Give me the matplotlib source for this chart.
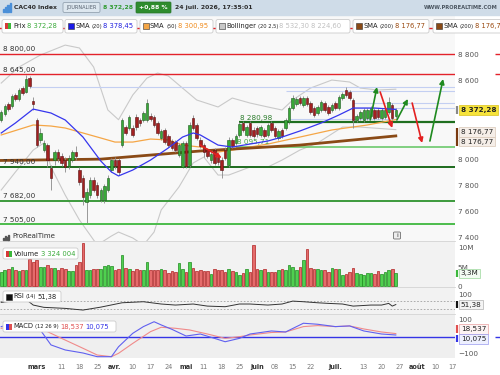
import numpy as np
import matplotlib.pyplot as plt
from matplotlib.patches import Rectangle, FancyBboxPatch

plt.rcParams['font.family'] = ['DejaVu Sans']

# bougies journalieres (16 fev -> 24 juil.)
opens = [8298, 8343, 8420, 8404, 8488, 8458, 8541, 8511, 8617, 8442,
         8298, 8146, 8069, 8107, 7932, 7993, 8054, 8024, 7993, 7948,
         7993, 8054, 7917, 7856, 7674, 7727, 7841, 7803, 7689, 7689,
         7765, 7917, 7993, 7993, 8107, 8244, 8237, 8237, 8321, 8298,
         8298, 8298, 8328, 8321, 8275, 8161, 8222, 8176, 8138, 8130,
         8031, 7940, 8123, 7955, 8313, 8260, 8146, 8107, 8069, 7993,
         8069, 8016, 7993, 8069, 7955, 8146, 8123, 8184, 8275, 8184,
         8275, 8222, 8237, 8184, 8222, 8184, 8275, 8237, 8161, 8222,
         8237, 8283, 8389, 8420, 8465, 8412, 8465, 8427, 8389, 8351,
         8374, 8427, 8397, 8374, 8427, 8389, 8465, 8526, 8511, 8450,
         8298, 8313, 8298, 8313, 8328, 8374, 8374, 8313, 8321, 8359,
         8412, 8328]
closes = [8359, 8404, 8381, 8480, 8458, 8526, 8503, 8610, 8556, 8420,
          8107, 8199, 8123, 7993, 7856, 8054, 8009, 7971, 7940, 8009,
          8054, 8024, 7826, 7712, 7750, 7841, 7765, 7727, 7765, 7795,
          7856, 7993, 7948, 7902, 8298, 8199, 8321, 8184, 8244, 8275,
          8351, 8427, 8305, 8260, 8199, 8214, 8130, 8107, 8085, 8069,
          8107, 8123, 7948, 8260, 8237, 8161, 8100, 8054, 8024, 8039,
          7971, 7978, 7917, 8009, 8146, 8100, 8176, 8267, 8222, 8244,
          8184, 8176, 8191, 8244, 8176, 8260, 8222, 8176, 8214, 8176,
          8298, 8389, 8465, 8458, 8427, 8465, 8420, 8359, 8336, 8397,
          8435, 8374, 8351, 8412, 8389, 8473, 8496, 8488, 8465, 8298,
          8328, 8359, 8374, 8374, 8389, 8313, 8321, 8374, 8374, 8435,
          8313, 8372.28]
highs = [8374, 8420, 8435, 8496, 8503, 8541, 8556, 8640, 8633, 8473,
         8313, 8237, 8146, 8123, 7955, 8069, 8077, 8047, 8016, 8031,
         8069, 8100, 7940, 7879, 7780, 7864, 7864, 7826, 7780, 7810,
         7879, 8009, 8016, 8009, 8313, 8260, 8336, 8260, 8343, 8313,
         8366, 8458, 8351, 8336, 8290, 8229, 8237, 8191, 8153, 8146,
         8123, 8138, 8138, 8283, 8336, 8275, 8168, 8123, 8085, 8054,
         8085, 8039, 8016, 8092, 8168, 8161, 8191, 8283, 8290, 8260,
         8290, 8244, 8252, 8260, 8237, 8275, 8290, 8252, 8229, 8237,
         8313, 8404, 8488, 8473, 8480, 8480, 8480, 8442, 8404, 8412,
         8450, 8442, 8412, 8427, 8442, 8488, 8511, 8549, 8526, 8465,
         8343, 8374, 8389, 8389, 8404, 8389, 8389, 8389, 8389, 8473,
         8427, 8389]
lows = [8283, 8328, 8366, 8389, 8442, 8442, 8488, 8503, 8541, 8374,
        8092, 8123, 8054, 7940, 7765, 7955, 7978, 7948, 7902, 7925,
        7978, 7993, 7803, 7651, 7514, 7704, 7750, 7704, 7674, 7666,
        7750, 7902, 7925, 7879, 8092, 8184, 8222, 8168, 8222, 8252,
        8283, 8283, 8290, 8244, 8184, 8146, 8115, 8092, 8069, 8054,
        8016, 7932, 7932, 7940, 8222, 8146, 8085, 8016, 8009, 7971,
        7955, 7955, 7856, 7993, 7940, 8085, 8107, 8168, 8206, 8168,
        8168, 8161, 8168, 8168, 8161, 8168, 8206, 8161, 8146, 8161,
        8222, 8267, 8374, 8404, 8412, 8397, 8404, 8343, 8321, 8336,
        8359, 8359, 8336, 8359, 8374, 8374, 8450, 8473, 8450, 8237,
        8283, 8298, 8283, 8298, 8313, 8298, 8305, 8298, 8305, 8343,
        8298, 8313]
# volume en millions
volumes = [3.8, 4.2, 4.6, 5.1, 4.1, 3.9, 4.1, 4.2, 7.2, 6.3,
           6.8, 5.1, 5.1, 5.4, 4.8, 4.8, 4.1, 4.7, 4.4, 3.9,
           3.9, 5.5, 6.3, 11.4, 4.1, 4.2, 4.4, 4.4, 4.6, 5.3,
           5.4, 5.3, 4.1, 4.4, 8.2, 4.8, 4.4, 3.9, 4.4, 4.1,
           4.1, 6.4, 4.1, 4.1, 4.2, 4.4, 4.2, 3.5, 3.9, 3.8,
           6.0, 4.4, 3.8, 6.3, 4.8, 4.0, 4.1, 3.9, 3.9, 3.1,
           4.4, 4.2, 4.2, 3.8, 4.4, 3.9, 3.7, 2.9, 3.3, 4.4,
           3.8, 10.8, 4.6, 4.2, 4.4, 3.8, 3.8, 3.8, 4.2, 4.6,
           4.2, 5.4, 5.1, 4.2, 5.1, 6.8, 9.8, 4.8, 4.4, 4.6,
           4.2, 4.1, 3.6, 4.8, 4.4, 4.4, 2.9, 3.1, 3.8, 4.8,
           3.5, 3.1, 2.8, 3.3, 3.5, 3.2, 3.9, 3.2, 3.7, 4.2,
           4.6, 3.324]

# indicateurs (indice de seance, valeur)
sma20_x = [0, 4, 9, 14, 18, 23, 28, 31, 33, 37, 42, 47, 51, 54, 56, 61, 65, 70, 75, 79, 84, 90, 95, 99, 105, 111]
sma20_y = [8199, 8275, 8381, 8351, 8298, 8168, 7986, 7902, 7872, 7917, 7993, 8085, 8168, 8199, 8184, 8107,
           8092, 8115, 8138, 8168, 8214, 8275, 8336, 8389, 8389, 8378.45]
sma50_x = [0, 9, 14, 18, 23, 28, 32, 37, 42, 47, 51, 56, 61, 65, 70, 75, 84, 93, 103, 111]
sma50_y = [8184, 8260, 8252, 8237, 8199, 8161, 8130, 8130, 8153, 8146, 8107, 8092, 8054, 8069, 8092, 8115,
           8168, 8222, 8260, 8300.95]
sma200_x = [0, 28, 56, 84, 111]
sma200_y = [7990, 8000, 8062, 8107, 8176.77]
bb_up_x = [0, 5, 11, 18, 22, 26, 30, 33, 37, 41, 44, 47, 51, 55, 61, 65, 70, 75, 79, 82, 87, 93, 98, 101, 106, 111]
bb_up_y = [8579, 8701, 8792, 8868, 8846, 8701, 8374, 8300, 8488, 8617, 8655, 8633, 8541, 8450, 8397, 8465,
           8427, 8397, 8374, 8450, 8541, 8602, 8587, 8541, 8526, 8532.30]
bb_lo_x = [0, 4, 9, 12, 14, 18, 22, 25, 27, 31, 33, 37, 40, 43, 45, 50, 54, 57, 61, 64, 70, 75, 79, 84, 89, 96, 101, 111]
bb_lo_y = [7765, 7902, 8069, 8123, 7940, 7727, 7537, 7423, 7346, 7415, 7445, 7400, 7346, 7445, 7613, 7788,
           7971, 8016, 7879, 7879, 7940, 7940, 7993, 8069, 8123, 8244, 8244, 8224.60]
rsi_x = [0, 3, 5, 7, 9, 12, 18, 23, 28, 34, 40, 45, 49, 54, 58, 63, 67, 70, 75, 79, 82, 85, 89, 92, 96, 99,
         104, 107, 109, 110, 111]
rsi_y = [62, 68, 71, 76, 49, 38, 33, 25, 39, 60, 65, 54, 49, 54, 44, 41, 54, 54, 49, 54, 68, 65, 60, 57, 54, 44,
         49, 49, 57, 44, 51.38]
macd_x = [0, 4, 8, 11, 14, 18, 23, 27, 31, 33, 37, 40, 43, 45, 48, 52, 56, 60, 63, 67, 70, 76, 80, 85, 89, 94,
          98, 102, 107, 111]
macd_y = [60, 80, 85, 40, -49, -79, -97, -119, -119, -60, 20, 60, 89, 70, 44, 4, 16, -10, -30, -10, 16, 34, 28,
          80, 74, 60, 64, 34, 16, 10.075]
sig_x = [0, 5, 9, 14, 18, 23, 27, 31, 33, 37, 42, 45, 49, 53, 58, 63, 67, 70, 76, 80, 85, 89, 94, 98, 102, 107, 111]
sig_y = [50, 65, 70, 20, -20, -69, -109, -119, -99, -40, 30, 56, 50, 40, 16, -10, 0, 10, 25, 28, 60, 66, 60, 64,
         46, 28, 18.537]

# niveaux traces
res_levels = [9000, 8800, 8645]
sup_levels = [7940, 7682, 7505]
sup_colors = ['#1d6b1d', '#3c9a3c', '#4cbc4c']
zone_high, zone_low, zone_start = 8280.98, 8095.71, 67
blue_levels = [8549, 8518, 8427, 8389, 8305]
blue_start = [8, 80, 99, 99, 81]
blue_end = [None, None, None, None, 111]
arrows = [((56, 8107), (62, 8009), 'r'), ((103.8, 8298), (105.7, 8549), 'g'), ((106.6, 8511), (110, 8237), 'r'),
          ((111.3, 8298), (114.4, 8458), 'g'), ((115.6, 8427), (118.4, 8123), 'r'), ((120.6, 8138), (124.3, 8610), 'g')]

tick_idx = [10, 17, 22, 27, 32, 37, 42, 47, 52, 57, 62, 67, 72, 77, 82, 87, 94, 102, 107, 112, 117, 122, 127]
tick_lab = ['mars', '11', '18', '25', 'avr.', '10', '17', '24', 'mai', '11', '18', '25', 'juin', '08', '15', '22',
            'juil.', '13', '20', '27', 'août', '10', '17']
months = ['mars', 'avr.', 'mai', 'juin', 'juil.', 'août']

W, H = 500, 375
fig = plt.figure(figsize=(5, 3.75), dpi=100)
fig.patch.set_facecolor('white')
renderer = fig.canvas.get_renderer()


def rect(top, bottom, left=0, right=455):
    return [left / W, 1 - bottom / H, (right - left) / W, (bottom - top) / H]


ax_p = fig.add_axes(rect(15, 241))
ax_v = fig.add_axes(rect(241, 287), sharex=ax_p)
ax_r = fig.add_axes(rect(287, 314), sharex=ax_p)
ax_m = fig.add_axes(rect(314, 358), sharex=ax_p)

FS = 5.2   # etiquettes d'axe
LF = 4.9   # legendes
for a, bg in [(ax_p, '#f8f8f8'), (ax_v, '#f2f2f2'), (ax_r, '#f2f2f2'), (ax_m, '#efefef')]:
    a.set_facecolor(bg)
    for s in a.spines.values():
        s.set_visible(False)
    a.yaxis.tick_right()
    a.tick_params(axis='y', length=0, labelsize=FS, labelcolor='#555555', pad=2)
    a.tick_params(axis='x', length=0, labelbottom=False)
for a in (ax_v, ax_r, ax_m):
    a.spines['top'].set_visible(True)
    a.spines['top'].set_color('#d4d4d4')
    a.spines['top'].set_linewidth(0.6)

ax_p.set_xlim(-0.34, 127.65)
ax_p.set_ylim(7377, 9097)
xr = 127.65

# --- panneau prix ---
ax_p.plot(bb_up_x, bb_up_y, color='#c9c9c9', lw=0.8, zorder=1)
ax_p.plot(bb_lo_x, bb_lo_y, color='#c9c9c9', lw=0.8, zorder=1)
for lv, st, en in zip(blue_levels, blue_start, blue_end):
    ax_p.hlines(lv, st, en if en is not None else xr, color='#c3cff2', lw=0.8, zorder=1)
for lv in res_levels:
    ax_p.axhline(lv, color='#e3222b', lw=1.0, zorder=2)
    ax_p.hlines(lv, 1.088, 1.1, transform=ax_p.get_yaxis_transform(), colors='#e3222b', lw=1.0,
                clip_on=False)
for lv, col in zip(sup_levels, sup_colors):
    ax_p.axhline(lv, color=col, lw=1.4, zorder=2)
ax_p.hlines(zone_high, zone_start, xr, color='#1f6f1f', lw=1.6, zorder=2)
ax_p.hlines(zone_low, zone_start - 1, xr, color='#6cc86c', lw=1.2, zorder=2)

for lv in res_levels[1:] + sup_levels:
    ax_p.annotate(f"{lv:,.2f}".replace(",", " ").replace(".", ","), xy=(0.006, lv),
                  xycoords=('axes fraction', 'data'), xytext=(0, 1.2), textcoords='offset points',
                  fontsize=FS, color='#333333', va='bottom', zorder=6)
ax_p.annotate("8 280,98", xy=(zone_start + 0.2, zone_high), xytext=(0, 1.2), textcoords='offset points',
              fontsize=FS, color='#2d7d2d', va='bottom', zorder=6)
ax_p.annotate("8 095,71", xy=(zone_start - 0.8, zone_low), xytext=(0, 1.2), textcoords='offset points',
              fontsize=FS, color='#45a845', va='bottom', zorder=6)

ax_p.plot(sma50_x, sma50_y, color='#f5a646', lw=0.9, zorder=3)
ax_p.plot(sma200_x, sma200_y, color='#8a4a16', lw=2.0, zorder=3)

idx = np.arange(len(closes))
o = np.array(opens, dtype=float)
c = np.array(closes, dtype=float)
up = c >= o
ax_p.vlines(idx, lows, highs, color='#8a8a8a', lw=0.6, zorder=4)
ax_p.bar(idx, np.maximum(np.abs(c - o), 4), bottom=np.minimum(o, c), width=0.7,
         color=np.where(up, '#38a838', '#a32020'), edgecolor=np.where(up, '#1d5a1d', '#551010'),
         lw=0.4, zorder=5)
ax_p.plot(sma20_x, sma20_y, color='#3636ee', lw=0.9, zorder=6)

for (x0, y0), (x1, y1), k in arrows:
    ax_p.annotate('', xy=(x1, y1), xytext=(x0, y0), zorder=7,
                  arrowprops=dict(arrowstyle='-|>', color='#e32020' if k == 'r' else '#1f8a1f',
                                  lw=1.2, mutation_scale=7, shrinkA=0, shrinkB=0))

pticks = [7400, 7600, 7800, 8000, 8600, 8800]
ax_p.set_yticks(pticks)
ax_p.set_yticklabels([f"{v:,}".replace(",", " ") for v in pticks])


def value_box(ax, v, txt, fc, ec, tc='#222222', bold=False):
    ax.annotate(txt, xy=(1.0, v), xycoords=('axes fraction', 'data'), xytext=(4.2, 0),
                textcoords='offset points', fontsize=FS, color=tc, va='center', ha='left',
                fontweight='bold' if bold else 'normal', annotation_clip=False, zorder=20,
                bbox=dict(boxstyle='square,pad=0.25', fc=fc, ec=ec, lw=0.5))


def side_bar(ax, lo, hi, col):
    ax.vlines(1.004, lo, hi, transform=ax.get_yaxis_transform(), colors=col, lw=1.6, clip_on=False,
              zorder=21)


value_box(ax_p, closes[-1], "8 372,28", '#f6e33a', '#d9c21c', bold=True)
side_bar(ax_p, closes[-1] - 30, closes[-1] + 30, '#888888')
value_box(ax_p, 8206, "8 176,77", '#f5eee8', '#d9c8b8')
value_box(ax_p, 8134, "8 176,77", '#f5eee8', '#d9c8b8')
side_bar(ax_p, 8100, 8240, '#7a3a10')

# --- volume ---
ax_v.bar(idx, volumes, width=0.74, color=np.where(up, '#4fd04f', '#e56b6b'),
         edgecolor=np.where(up, '#1e8c1e', '#b02222'), lw=0.5)
ax_v.set_ylim(-0.26, 11.84)
ax_v.set_yticks([0, 5, 10])
ax_v.set_yticklabels(['0', '5M', '10M'])
value_box(ax_v, volumes[-1], "3,3M", '#f4fbf4', '#9ad89a')
side_bar(ax_v, volumes[-1] - 1.0, volumes[-1] + 1.0, '#3cb83c')

# --- RSI ---
ax_r.axhline(70, color='#a0a0a0', lw=0.6, ls=(0, (2, 2)))
ax_r.axhline(30, color='#a0a0a0', lw=0.6, ls=(0, (2, 2)))
ax_r.plot(rsi_x, rsi_y, color='#333333', lw=0.7)
ax_r.set_ylim(6, 135.8)
ax_r.set_yticks([100])
value_box(ax_r, rsi_y[-1], "51,38", '#f4f4f4', '#b0b0b0')
side_bar(ax_r, rsi_y[-1] - 18, rsi_y[-1] + 18, '#111111')

# --- MACD ---
ax_m.axhline(0, color='#3434e6', lw=1.0)
ax_m.hlines(0, 1.088, 1.1, transform=ax_m.get_yaxis_transform(), colors='#3434e6', lw=1.0, clip_on=False)
ax_m.plot(sig_x, sig_y, color='#f08a8a', lw=0.8)
ax_m.plot(macd_x, macd_y, color='#6060f0', lw=0.8)
ax_m.set_ylim(-126.8, 135)
ax_m.set_yticks([-100, 100])
ax_m.set_yticklabels(['\u2212100', '100'])
value_box(ax_m, 46, "18,537", '#fdf3f3', '#eaa0a0')
value_box(ax_m, -12, "10,075", '#eef0ff', '#9a9aee')
side_bar(ax_m, 24, 68, '#e05050')
side_bar(ax_m, -34, 10, '#3434e6')

ax_m.tick_params(axis='x', labelbottom=True, labelsize=4.7, pad=4, labelcolor='#777777')
ax_m.set_xticks(tick_idx)
ax_m.set_xticklabels(tick_lab)
for tl in ax_m.get_xticklabels():
    if tl.get_text() in months:
        tl.set_fontweight('bold')
        tl.set_color('#333333')

# --- habillage (coordonnees pixel) ---
ov = fig.add_axes([0, 0, 1, 1], zorder=10)
ov.set_xlim(0, W)
ov.set_ylim(H, 0)
ov.axis('off')
ov.patch.set_alpha(0)


def chain(x, y, parts, gap=1.6):
    # textes places bout a bout
    for s, col, fs, bold in parts:
        tx = ov.text(x, y, s, fontsize=fs, color=col, va='center',
                     fontweight='bold' if bold else 'normal')
        x += tx.get_window_extent(renderer).width + gap
    return x


TF = 4.4
ov.add_patch(Rectangle((0, 0), W, 15, color='#cfdce8'))
for i, hh in enumerate([3, 5, 7, 9]):
    ov.add_patch(Rectangle((3 + i * 2.2, 12 - hh), 1.3, hh, color='#4a8fd8'))
ov.text(14, 7.7, 'CAC40 Index', fontsize=TF, fontweight='bold', color='#2b2b2b', va='center')
ov.add_patch(FancyBboxPatch((63, 2.5), 37, 10, boxstyle='round,pad=0,rounding_size=1.5',
                            fc='#dde7ef', ec='#8797a6', lw=0.5))
ov.text(81.5, 7.8, 'JOURNALIER', fontsize=3.6, color='#55606e', ha='center', va='center')
ov.text(103, 7.7, '8 372,28', fontsize=TF, fontweight='bold', color='#2f9a2f', va='center')
ov.add_patch(FancyBboxPatch((136, 2), 35, 11, boxstyle='round,pad=0,rounding_size=1',
                            fc='#2e8c2e', ec='#267526', lw=0.5))
ov.text(153.5, 7.7, '+0,88 %', fontsize=TF, fontweight='bold', color='white', ha='center', va='center')
ov.text(175, 7.7, '24 juil. 2026, 17:35:01', fontsize=TF, fontweight='bold', color='#2b2b2b', va='center')
ov.text(498, 7.7, 'WWW.PROREALTIME.COM', fontsize=3.7, fontweight='bold', color='#4a5560',
        ha='right', va='center')


def lbox(x0, x1, y0, y1):
    ov.add_patch(FancyBboxPatch((x0, y0), x1 - x0, y1 - y0, boxstyle='round,pad=0,rounding_size=2',
                                fc='white', ec='#cccccc', lw=0.6))


def sq(x, y, c1, c2=None):
    if c2 is None:
        ov.add_patch(Rectangle((x, y - 3), 6, 6, fc=c1, ec='#333333', lw=0.4))
    else:
        ov.add_patch(Rectangle((x, y - 3), 3, 6, fc=c1, lw=0))
        ov.add_patch(Rectangle((x + 3, y - 3), 3, 6, fc=c2, lw=0))


K = '#222222'
PF = 3.7
yl = 26.3
lbox(2, 63, 19.5, 33)
sq(5, yl, '#d63a3a', '#3cb83c')
chain(13, yl, [('Prix', K, LF, False), ('8 372,28', '#3aaa3a', LF, False)])
lbox(65, 137, 19.5, 33)
sq(67.5, yl, '#1a1ae8')
chain(75, yl, [('SMA', K, LF, False), ('(20)', K, PF, False), ('8 378,45', '#2222e0', LF, False)])
lbox(140, 213, 19.5, 33)
sq(142.5, yl, '#f5a646')
chain(150, yl, [('SMA', K, LF, False), ('(50)', K, PF, False), ('8 300,95', '#f08c1e', LF, False)])
lbox(216, 350, 19.5, 33)
sq(218.5, yl, '#c8c8c8')
chain(226, yl, [('Bollinger', K, LF, False), ('(20 2,5)', K, PF, False), ('8 532,30', '#c0c0c0', LF, False),
                ('8 224,60', '#c0c0c0', LF, False)])
lbox(353, 429, 19.5, 33)
sq(355.5, yl, '#8a4a16')
chain(363, yl, [('SMA', K, LF, False), ('(200)', K, PF, False), ('8 176,77', '#9a4a10', LF, False)])
lbox(433, 505, 19.5, 33)
sq(435.5, yl, '#8a4a16')
chain(443, yl, [('SMA', K, LF, False), ('(200)', K, PF, False), ('8 176,7', '#9a4a10', LF, False)])

# logo et boite info
for i, hh in enumerate([2, 4, 3, 5]):
    ov.add_patch(Rectangle((3 + i * 1.8, 239.5 - hh), 1.0, hh, color='#555555'))
ov.text(12, 236.5, 'ProRealTime', fontsize=5.0, color='#333333', va='center')
ov.add_patch(FancyBboxPatch((393.5, 232), 7, 7, boxstyle='round,pad=0,rounding_size=1',
                            fc='#eeeeee', ec='#555555', lw=0.5))
ov.text(397, 235.7, 'i', fontsize=4.5, ha='center', va='center', color='#333333')

# legendes des sous-panneaux
lbox(3, 78, 248, 259)
sq(6, 253.5, '#d63a3a', '#3cb83c')
chain(14, 253.5, [('Volume', K, LF, False), ('3 324 004', '#3aaa3a', LF, False)])
lbox(3, 61, 291, 302)
sq(5.5, 296.5, '#111111')
chain(13, 296.5, [('RSI', K, LF, False), ('(14)', K, PF, False), ('51,38', K, LF, False)])
lbox(3, 116, 321, 332)
sq(5.5, 326.5, '#3434e6', '#e05050')
chain(13, 326.5, [('MACD', K, LF, False), ('(12 26 9)', K, PF, False), ('18,537', '#e05050', LF, False),
                  ('10,075', '#3434e6', LF, False)])

fig.savefig('out.png', dpi=100, facecolor=fig.get_facecolor())
